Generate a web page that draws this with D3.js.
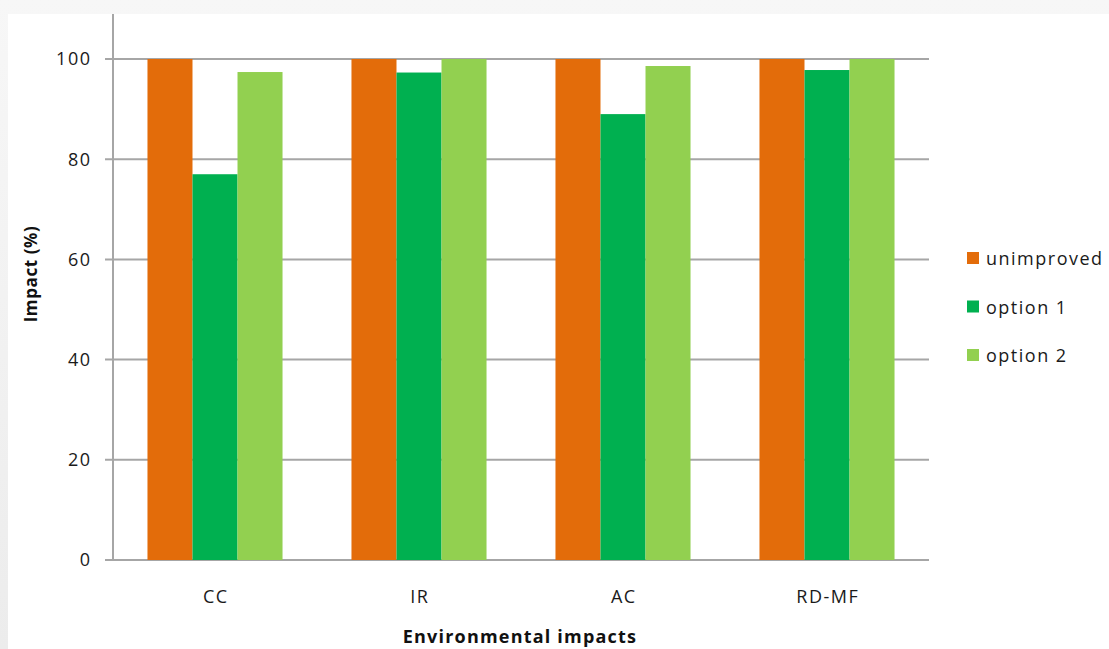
<!DOCTYPE html>
<html><head><meta charset="utf-8">
<script src="https://cdn.jsdelivr.net/npm/d3@7"></script>
<style>
html,body{margin:0;padding:0;background:#f0f0f0;}
svg{display:block;font-family:"Open Sans","Noto Sans",sans-serif;}
</style></head><body>
<svg id="c" width="1109" height="649"></svg>
<script>
const categories = ["CC","IR","AC","RD-MF"];
const seriesNames = ["unimproved","option 1","option 2"];
const unimproved = [100,100,100,100];
const option1 = [77.0,97.3,89.0,97.8];
const option2 = [97.4,100,98.6,100];
const yTicks = [0,20,40,60,80,100];
const colors = ["#e36c0a","#00b050","#92d050"];

const svg = d3.select("#c");
const defs = svg.append("defs");
const g1 = defs.append("linearGradient").attr("id","bgv").attr("x1",0).attr("y1",0).attr("x2",0).attr("y2",1);
g1.append("stop").attr("offset","0").attr("stop-color","#f7f7f7");
g1.append("stop").attr("offset","1").attr("stop-color","#ececec");
svg.append("rect").attr("width",1109).attr("height",649).attr("fill","url(#bgv)");
svg.append("rect").attr("x",8).attr("y",14).attr("width",1101).attr("height",635).attr("fill","#ffffff");

const pLeft=113, pRight=929, pTop=59, pBottom=560;
const x = d3.scaleBand().domain(categories).range([pLeft,pRight]).paddingInner(0.338).paddingOuter(0.169);
const xs = d3.scaleBand().domain(seriesNames).range([0,x.bandwidth()]);
const y = d3.scaleLinear().domain([0,100]).range([pBottom,pTop]);

// gridlines
svg.append("g").selectAll("line").data(yTicks).join("line")
  .attr("x1",105).attr("x2",pRight).attr("y1",d=>y(d)).attr("y2",d=>y(d))
  .attr("stroke","#a6a6a6").attr("stroke-width",2);

const data = [unimproved, option1, option2];
categories.forEach((c,i)=>{
  seriesNames.forEach((s,j)=>{
    svg.append("rect")
      .attr("x", x(c)+xs(s)).attr("width", xs.bandwidth())
      .attr("y", y(data[j][i])).attr("height", y(0)-y(data[j][i]))
      .attr("fill", colors[j]);
  });
});

// y axis line
svg.append("line").attr("x1",pLeft).attr("x2",pLeft).attr("y1",14).attr("y2",pBottom+1)
  .attr("stroke","#a6a6a6").attr("stroke-width",2);

// y tick labels
svg.append("g").selectAll("text").data(yTicks).join("text")
  .attr("x",91.5).attr("y",d=>y(d)).attr("dy","0.36em").attr("text-anchor","end")
  .attr("font-size",18).attr("letter-spacing",1.5).attr("fill","#1a1a1a").text(d=>d);

// x labels
svg.append("g").selectAll("text").data(categories).join("text")
  .attr("x",d=>x(d)+x.bandwidth()/2+0.75).attr("y",603).attr("text-anchor","middle")
  .attr("font-size",18).attr("letter-spacing",1.5).attr("fill","#1a1a1a").text(d=>d);

// axis titles
svg.append("text").attr("x",520).attr("y",643).attr("text-anchor","middle")
  .attr("font-size",18).attr("letter-spacing",1.2).attr("font-weight","bold").attr("fill","#111").text("Environmental impacts");
svg.append("text").attr("transform","translate(37,274) rotate(-90)")
  .attr("text-anchor","middle").attr("font-size",17).attr("letter-spacing",0.6).attr("font-weight","bold").attr("fill","#111").text("Impact  (%)");

// legend
const lg = svg.append("g").selectAll("g").data(seriesNames).join("g")
  .attr("transform",(d,i)=>`translate(967,${258+i*48.5})`);
lg.append("rect").attr("x",0).attr("y",-6).attr("width",12).attr("height",12).attr("fill",(d,i)=>colors[i]);
lg.append("text").attr("x",19).attr("y",7).attr("font-size",18).attr("letter-spacing",1.5).attr("fill","#1a1a1a").text(d=>d);
</script></body></html>
